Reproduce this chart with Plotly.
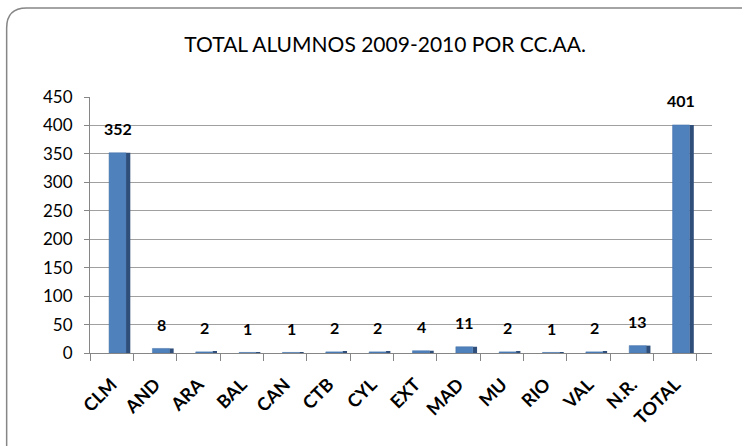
import plotly.graph_objects as go

categories = ["CLM", "AND", "ARA", "BAL", "CAN", "CTB", "CYL", "EXT", "MAD", "MU", "RIO", "VAL", "N.R.", "TOTAL"]
values = [352, 8, 2, 1, 1, 2, 2, 4, 11, 2, 1, 2, 13, 401]
y_ticks = [0, 50, 100, 150, 200, 250, 300, 350, 400, 450]

fig = go.Figure()
# darker side face (pseudo 3D)
fig.add_trace(go.Bar(
    x=categories, y=values,
    marker=dict(color="#2F4F7A", line=dict(width=0)),
    offset=0.33, width=0.1,
    hoverinfo="skip",
))
# front face
fig.add_trace(go.Bar(
    x=categories, y=values,
    marker=dict(color="#4F81BD", line=dict(color="#4572A7", width=0.5)),
    offset=-0.06, width=0.39,
))

annotations = [
    dict(x=c, y=v, xref="x", yref="y", text=str(v), showarrow=False,
         xanchor="center", yanchor="middle", xshift=6, yshift=24,
         font=dict(family="Lato", size=16, color="black", weight="bold"))
    for c, v in zip(categories, values)
]

fig.update_layout(
    width=742, height=446,
    margin=dict(l=90, r=30, t=97, b=93, autoexpand=False),
    paper_bgcolor="white", plot_bgcolor="white",
    showlegend=False,
    barmode="overlay",
    font=dict(family="Lato", color="black"),
    title=dict(text="TOTAL ALUMNOS 2009-2010 POR CC.AA.", x=0.519, xanchor="center",
               y=0.899, yanchor="middle", font=dict(family="Lato", size=21, color="black")),
    annotations=annotations,
    xaxis=dict(
        range=[-0.5, 13.85],
        automargin=False,
        tickangle=-45,
        tickson="boundaries",
        tickfont=dict(family="Lato", size=18, color="black", weight="bold"),
        ticklabelstandoff=13,
        showline=True, linecolor="#868686", linewidth=1,
        ticks="outside", ticklen=7, tickcolor="#868686",
        showgrid=False,
    ),
    yaxis=dict(
        range=[0, 450],
        automargin=False,
        tickvals=y_ticks,
        tickfont=dict(family="Lato", size=17, color="black"),
        ticklabelstandoff=8,
        showline=True, linecolor="#868686", linewidth=1,
        ticks="outside", ticklen=5, tickcolor="#868686",
        gridcolor="#A0A0A0", gridwidth=1,
        zeroline=False,
    ),
    shapes=[dict(
        type="path", xref="paper", yref="paper",
        path="M -0.102,1.348 L 1.06,1.348 L 1.06,-0.40 L -0.134,-0.40 L -0.134,1.27 Q -0.134,1.348 -0.102,1.348 Z",
        line=dict(color="#868686", width=1.5), layer="below",
    )],
)

fig.write_html("out.html", config={"displayModeBar": False},
               post_script="document.body.style.margin='0';document.body.style.overflow='hidden';")
